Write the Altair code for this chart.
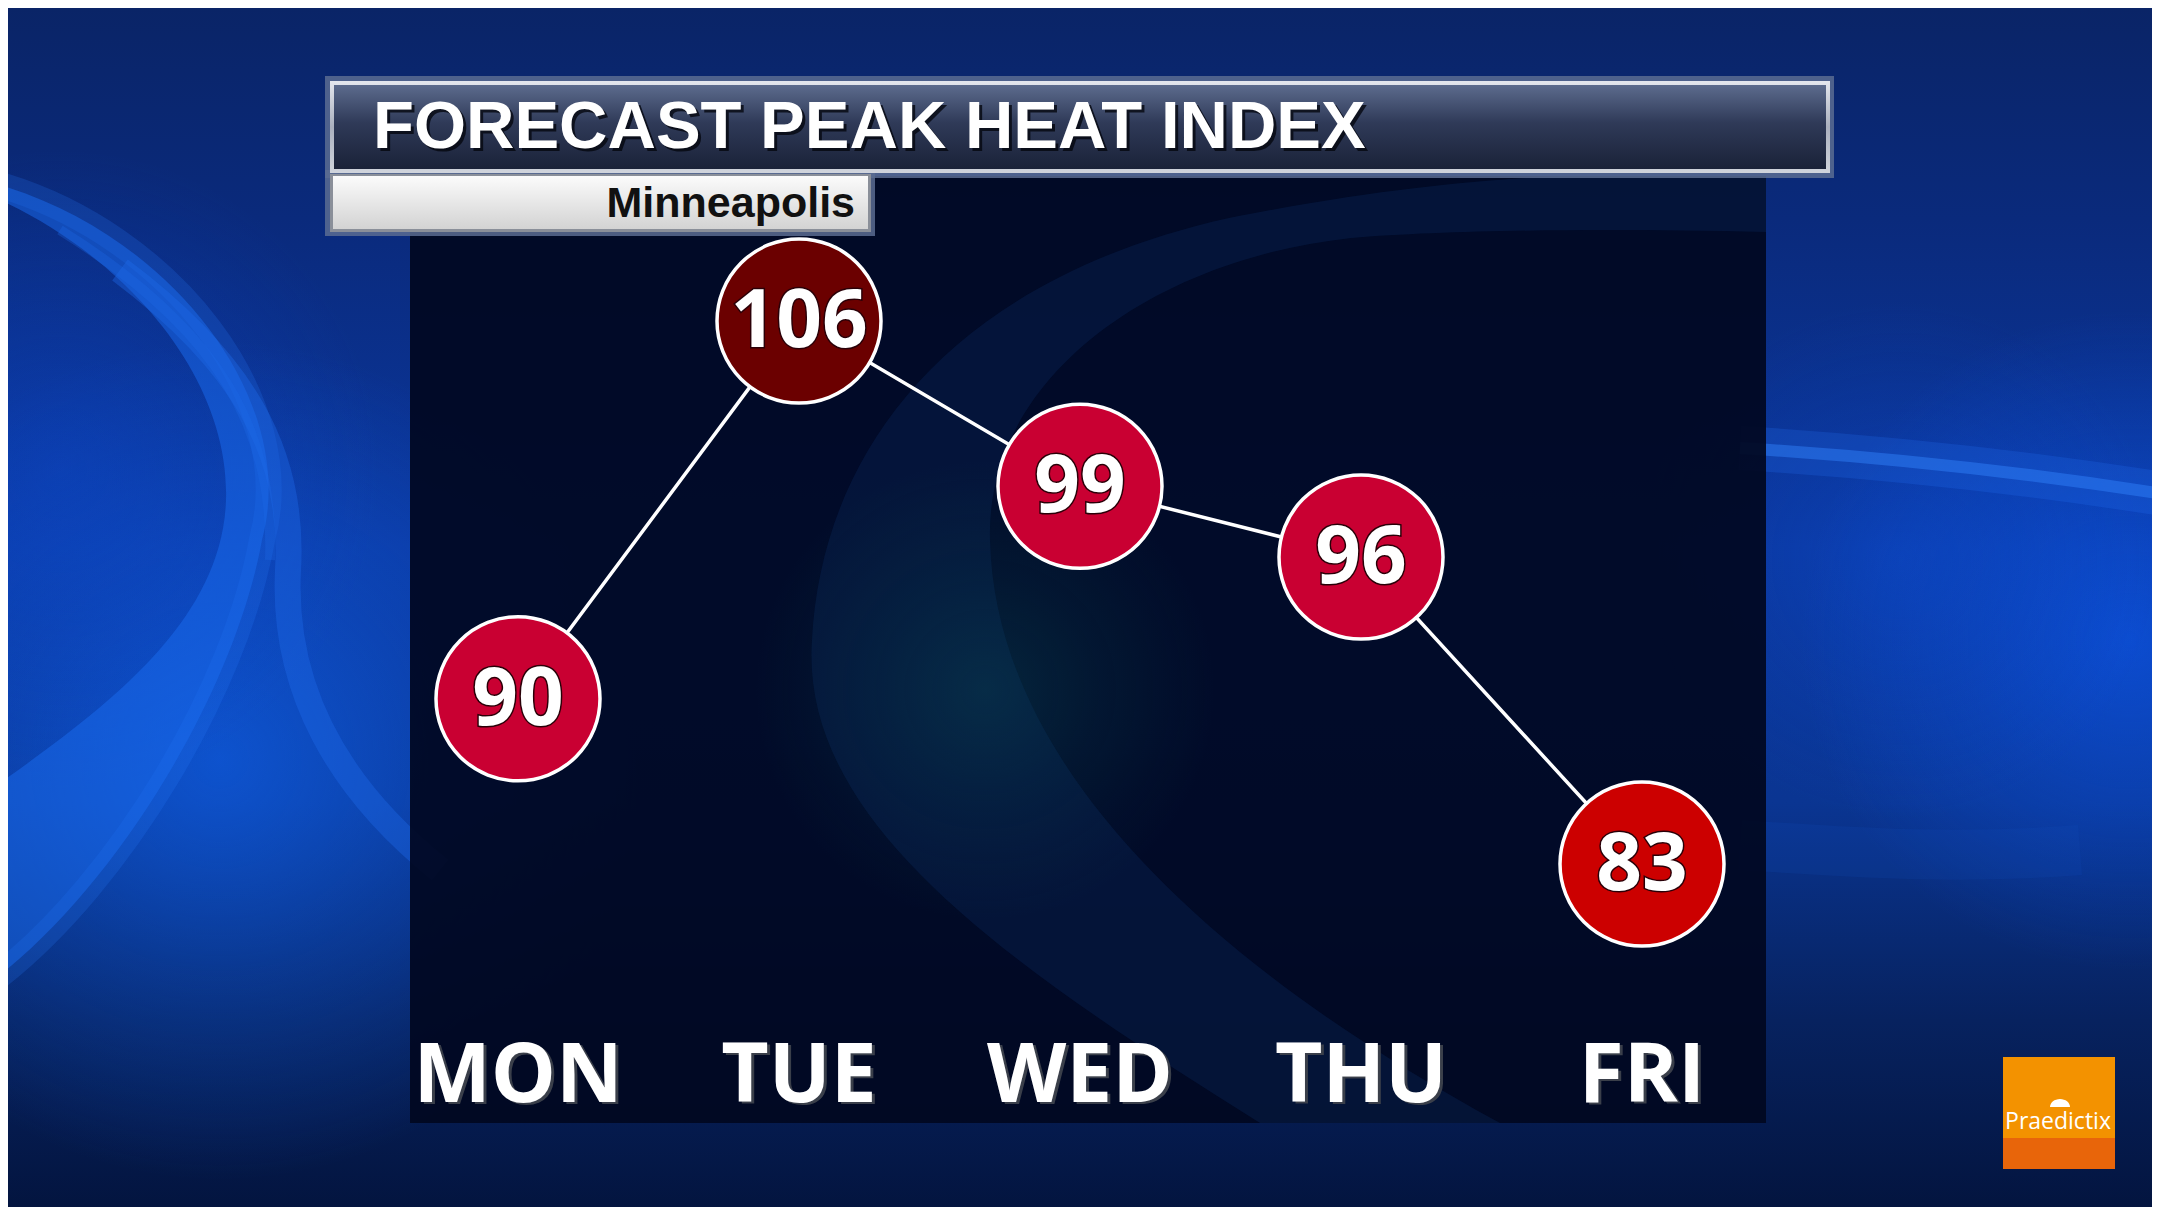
import re
import altair as alt
import pandas as pd

# ---------------- data ----------------
days = ["MON", "TUE", "WED", "THU", "FRI"]
heat_index = [90, 106, 99, 96, 83]
title_text = "FORECAST PEAK HEAT INDEX"
city = "Minneapolis"
brand = "Praedictix"

df = pd.DataFrame({"day": days, "value": heat_index})

# ---------------- helpers ----------------
OFF = 8           # page margin
W, H = 2144, 1199
one = pd.DataFrame({"k": [0]})


def px(v):
    return v - OFF


def lin(stops, x1=0, y1=0, x2=0, y2=1):
    return {"gradient": "linear", "x1": x1, "y1": y1, "x2": x2, "y2": y2,
            "stops": [{"offset": o, "color": c} for o, c in stops]}


def rad(stops, cx=0.5, cy=0.5, r=0.5):
    return {"gradient": "radial", "x1": cx, "y1": cy, "r1": 0, "x2": cx, "y2": cy, "r2": r,
            "stops": [{"offset": o, "color": c} for o, c in stops]}


def rect(x1, x2, y1, y2, fill, **kw):
    return alt.Chart(one).mark_rect(fill=fill, **kw).encode(
        x=alt.value(px(x1)), x2=alt.value(px(x2)),
        y=alt.value(px(y1)), y2=alt.value(px(y2)))


def glow(cx, cy, r, rgb, alpha):
    c0 = f"rgba({rgb},{alpha})"
    c1 = f"rgba({rgb},0)"
    return rect(cx - r, cx + r, cy - r, cy + r, rad([(0, c0), (0.5, f"rgba({rgb},{alpha * 0.45:.3f})"), (1, c1)]))


S = 1000.0  # decorative shape scale: path units of 1 = 1000 px


def deco(path_px, filled=True, **kw):
    """Decorative background shape, path given in page pixels."""
    scaled = re.sub(r"-?\d+(\.\d+)?", lambda m: f"{float(m.group(0)) / S:.4f}", path_px)
    return alt.Chart(one).mark_point(shape=scaled, filled=filled, size=(2 * S) ** 2,
                                     opacity=1, **kw).encode(
        x=alt.value(px(0)), y=alt.value(px(0)))


def label(x, y, text, **kw):
    return alt.Chart(one).mark_text(text=text, **kw).encode(
        x=alt.value(px(x)), y=alt.value(px(y)))


# ---------------- background ----------------
bg = rect(0, 2160, 0, 1215, lin([(0, "#0a2466"), (0.18, "#0a2a7c"), (0.45, "#0b38a0"),
                                   (0.66, "#0a3592"), (0.84, "#07225f"), (1, "#03143e")]))
glows = [
    glow(220, 760, 420, "15,95,230", 0.7),
    glow(60, 470, 320, "12,70,200", 0.45),
    glow(2130, 640, 330, "12,85,230", 0.7),
    glow(1900, 560, 260, "12,80,220", 0.3),
]

band_a = deco("M 0 185 C 170 235 300 400 262 540 C 235 690 120 880 0 975 "
              "L 0 783 C 110 705 222 620 226 500 C 230 380 130 260 0 200 Z",
              filled=True, fill="#1a6cf0", fillOpacity=0.5, strokeWidth=0)
band_a_soft = deco("M 0 185 C 170 235 300 400 262 540 C 235 690 120 880 0 975",
                   filled=False, stroke="#2a7cff", strokeWidth=26, strokeOpacity=0.2)
band_b = deco("M 120 270 C 240 360 295 450 288 570 C 282 690 340 790 440 870",
              filled=False, stroke="#1f6ae8", strokeWidth=26, strokeOpacity=0.4)
band_b2 = deco("M 60 230 C 220 330 275 430 270 560",
               filled=False, stroke="#1f6ae8", strokeWidth=10, strokeOpacity=0.3)
streak_soft = deco("M 1740 448 C 1900 458 2050 475 2200 500",
                   filled=False, stroke="#2a78ff", strokeWidth=44, strokeOpacity=0.2)
streak = deco("M 1740 448 C 1900 458 2050 475 2200 500",
              filled=False, stroke="#3385ff", strokeWidth=12, strokeOpacity=0.45)
lower_band = deco("M 1740 845 C 1850 852 1950 860 2080 850",
                  filled=False, stroke="#1450c0", strokeWidth=50, strokeOpacity=0.15)

# ---------------- panel ----------------
panel = rect(410, 1766, 176, 1123, "#010820", opacity=0.93)
panel_ring = deco("M 1260 1123 C 1000 960 800 820 812 640 C 822 450 950 280 1229 218 "
                  "C 1380 188 1480 180 1560 176 L 1766 176 L 1766 232 "
                  "C 1600 228 1450 230 1351 238 C 1150 260 985 380 990 540 "
                  "C 995 760 1200 960 1500 1123 Z",
                  filled=True, fill="#0b2a60", fillOpacity=0.32, strokeWidth=0)
panel_teal = glow(985, 690, 230, "10,85,95", 0.35)

# ---------------- title bar ----------------
frame_top = rect(325, 1834, 76, 178, "#5a6c92", opacity=0.85)
frame_sub = rect(325, 875, 170, 236, "#5a6c92", opacity=0.85)
title_border = rect(330, 1830, 81, 173, lin([(0, "#e4e7ee"), (0.5, "#aab0be"), (1, "#d0d4dc")]))
title_inner = rect(334, 1826, 85, 169, lin([(0, "#5c6b8d"), (0.45, "#2f3a58"), (1, "#1a2238")]))
sub_border = rect(330, 871, 174, 232, "#8a8f99")
sub_inner = rect(333, 868, 176, 229, lin([(0, "#fbfbfb"), (1, "#d3d3d3")]))

title_shadow = label(376, 151, title_text, font="Liberation Sans", fontWeight="bold", fontSize=67,
                     color="#05070f", opacity=0.8, align="left", baseline="alphabetic")
title = label(373, 148, title_text, font="Liberation Sans", fontWeight="bold", fontSize=67,
              color="#ffffff", align="left", baseline="alphabetic")
subtitle = label(855, 217, city, font="Liberation Sans", fontWeight="bold", fontSize=43,
                 color="#111111", align="right", baseline="alphabetic")

# ---------------- data layers ----------------
xs = alt.X("day:N", sort=days, axis=None,
           scale=alt.Scale(type="point", domain=days, range=[px(518), px(1642)], padding=0))
ys = alt.Y("value:Q", axis=None,
           scale=alt.Scale(domain=[83, 106], range=[px(864), px(321)], zero=False, nice=False))

base = alt.Chart(df)
line = base.mark_line(color="#ffffff", strokeWidth=3.5).encode(x=xs, y=ys)
dots = base.mark_point(filled=True, shape="circle", size=(2 * 82) ** 2, stroke="#ffffff",
                       strokeWidth=3.5, opacity=1).encode(
    x=xs, y=ys,
    fill=alt.Fill("value:Q", legend=None,
                  scale=alt.Scale(type="threshold", domain=[85, 105],
                                  range=["#cc0000", "#c90032", "#6b0000"])))
num_outline = base.mark_text(font="Open Sans", fontWeight="bold", fontSize=80, baseline="middle",
                             align="center", dy=2, fill="#2a0008", stroke="#2a0008",
                             strokeWidth=3).encode(x=xs, y=ys, text="value:Q")
nums = base.mark_text(font="Open Sans", fontWeight="bold", fontSize=80, baseline="middle",
                      align="center", dy=2, color="#ffffff").encode(x=xs, y=ys, text="value:Q")
day_shadow = base.mark_text(font="Open Sans", fontWeight="bold", fontSize=82, baseline="alphabetic",
                            align="center", dx=3, dy=2, color="#3a3f4a").encode(
    x=xs, y=alt.value(px(1102)), text="day:N")
day_labels = base.mark_text(font="Open Sans", fontWeight="bold", fontSize=82, baseline="alphabetic",
                            align="center", color="#ffffff").encode(
    x=xs, y=alt.value(px(1102)), text="day:N")

# ---------------- logo ----------------
logo_top = rect(2003, 2115, 1057, 1139, "#f39200")
logo_bot = rect(2003, 2115, 1138, 1169, "#e8650a")
umbrella = alt.Chart(one).mark_point(shape="M -1 0.3 A 1 0.8 0 0 1 1 0.3 Z", filled=True,
                                     size=20 ** 2, color="#ffffff", opacity=1).encode(
    x=alt.value(px(2060)), y=alt.value(px(1104)))
logo_text = label(2058, 1129, brand, font="Open Sans", fontSize=23, color="#ffffff",
                  align="center", baseline="alphabetic")

chart = alt.layer(
    bg, *glows, band_a_soft, band_a, band_b, band_b2,
    streak_soft, streak, lower_band,
    panel, panel_ring, panel_teal,
    frame_top, frame_sub, title_border, title_inner, sub_border, sub_inner,
    title_shadow, title, subtitle,
    line, dots, num_outline, nums, day_shadow, day_labels,
    logo_top, logo_bot, umbrella, logo_text,
).properties(
    width=W, height=H, padding=0, background="#0a2466",
    autosize=alt.AutoSizeParams(type="none"),
).configure_view(strokeWidth=0)

chart.save("out.html", embed_options={"renderer": "svg", "actions": False})
